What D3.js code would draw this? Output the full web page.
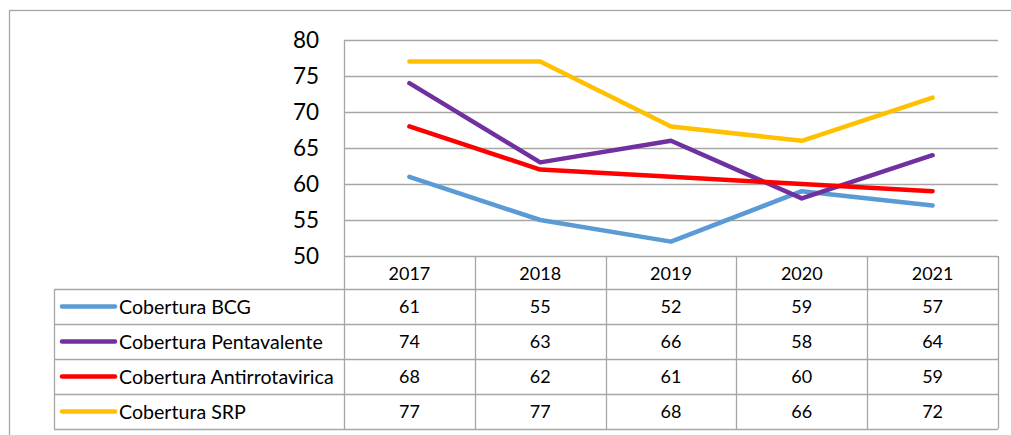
<!DOCTYPE html>
<html><head><meta charset="utf-8">
<script src="https://cdn.jsdelivr.net/npm/d3@7"></script>
<style>
html,body{margin:0;padding:0;background:#fff;}
svg{display:block;}
text{font-family:Lato,"Open Sans",sans-serif;fill:#000;}
</style></head>
<body>
<svg id="c" width="1011" height="435"></svg>
<script>
const years = ["2017","2018","2019","2020","2021"];
const seriesNames = ["Cobertura BCG","Cobertura Pentavalente","Cobertura Antirrotavirica","Cobertura SRP"];
const bcg = [61,55,52,59,57];
const pentavalente = [74,63,66,58,64];
const antirrotavirica = [68,62,61,60,59];
const srp = [77,77,68,66,72];
const yTicks = [50,55,60,65,70,75,80];
const colors = ["#5B9BD5","#7030A0","#FF0000","#FFC000"];

const seriesValues = [bcg, pentavalente, antirrotavirica, srp];
const svg = d3.select("#c");
const gridColor = "#A6A6A6";

const plotLeft = 344, plotRight = 998, plotTop = 40, plotBottom = 256;
const x = d3.scaleBand().domain(years).range([plotLeft, plotRight]).padding(0);
const y = d3.scaleLinear().domain([50,80]).range([plotBottom, plotTop]);

// outer border
svg.append("rect").attr("x",9.5).attr("y",10.5).attr("width",1030).attr("height",460)
  .attr("fill","none").attr("stroke",gridColor).attr("stroke-width",1.3);

// gridlines
svg.append("g").selectAll("line").data(yTicks).join("line")
  .attr("x1",plotLeft).attr("x2",plotRight)
  .attr("y1",d=>Math.round(y(d))+0.5).attr("y2",d=>Math.round(y(d))+0.5)
  .attr("stroke",gridColor).attr("stroke-width",1.3);

// y axis labels
svg.append("g").selectAll("text").data(yTicks).join("text")
  .attr("x",319).attr("y",d=>y(d)).attr("text-anchor","end")
  .attr("dy","0.36em").style("font-size","22.5px").text(d=>d);

// table
const headerTop = plotBottom, headerBottom = 289, rowH = 35;
const tableLeft = 54;
const rowY = i => headerBottom + i*rowH;
const tableBottom = rowY(seriesNames.length);
const t = svg.append("g");
// vertical lines
const colEdges = years.map(d=>x(d)).concat([plotRight]);
t.selectAll("line.v").data(colEdges).join("line").attr("class","v")
  .attr("x1",d=>Math.round(d)+0.5).attr("x2",d=>Math.round(d)+0.5)
  .attr("y1",(d,i)=> i===0 ? plotTop : headerTop).attr("y2",tableBottom)
  .attr("stroke",gridColor).attr("stroke-width",1.3);
t.append("line").attr("x1",tableLeft+0.5).attr("x2",tableLeft+0.5)
  .attr("y1",headerBottom).attr("y2",tableBottom).attr("stroke",gridColor).attr("stroke-width",1.3);
// horizontal lines
t.selectAll("line.h").data(d3.range(seriesNames.length+1)).join("line").attr("class","h")
  .attr("x1",tableLeft).attr("x2",plotRight)
  .attr("y1",i=>rowY(i)+0.5).attr("y2",i=>rowY(i)+0.5)
  .attr("stroke",gridColor).attr("stroke-width",1.3);
// header text
t.selectAll("text.hd").data(years).join("text").attr("class","hd")
  .attr("x",d=>x(d)+x.bandwidth()/2).attr("y",(headerTop+headerBottom)/2+1)
  .attr("text-anchor","middle").attr("dy","0.36em").style("font-size","18px").text(d=>d);
// rows
seriesNames.forEach((name,i)=>{
  const cy = rowY(i)+rowH/2;
  t.append("line").attr("x1",62).attr("x2",115).attr("y1",cy).attr("y2",cy)
    .attr("stroke",colors[i]).attr("stroke-width",4.5).attr("stroke-linecap","round");
  t.append("text").attr("x",119).attr("y",cy).attr("dy","0.36em")
    .style("font-size","19.6px").text(name);
  t.selectAll(null).data(seriesValues[i]).join("text")
    .attr("x",(d,j)=>x(years[j])+x.bandwidth()/2).attr("y",cy)
    .attr("text-anchor","middle").attr("dy","0.36em").style("font-size","18px").text(d=>d);
});

// lines
const line = d3.line().x((d,j)=>x(years[j])+x.bandwidth()/2).y(d=>y(d));
svg.append("g").selectAll("path").data(seriesValues).join("path")
  .attr("d",line).attr("fill","none")
  .attr("stroke",(d,i)=>colors[i]).attr("stroke-width",4.5)
  .attr("stroke-linecap","round").attr("stroke-linejoin","round");
</script>
</body></html>
